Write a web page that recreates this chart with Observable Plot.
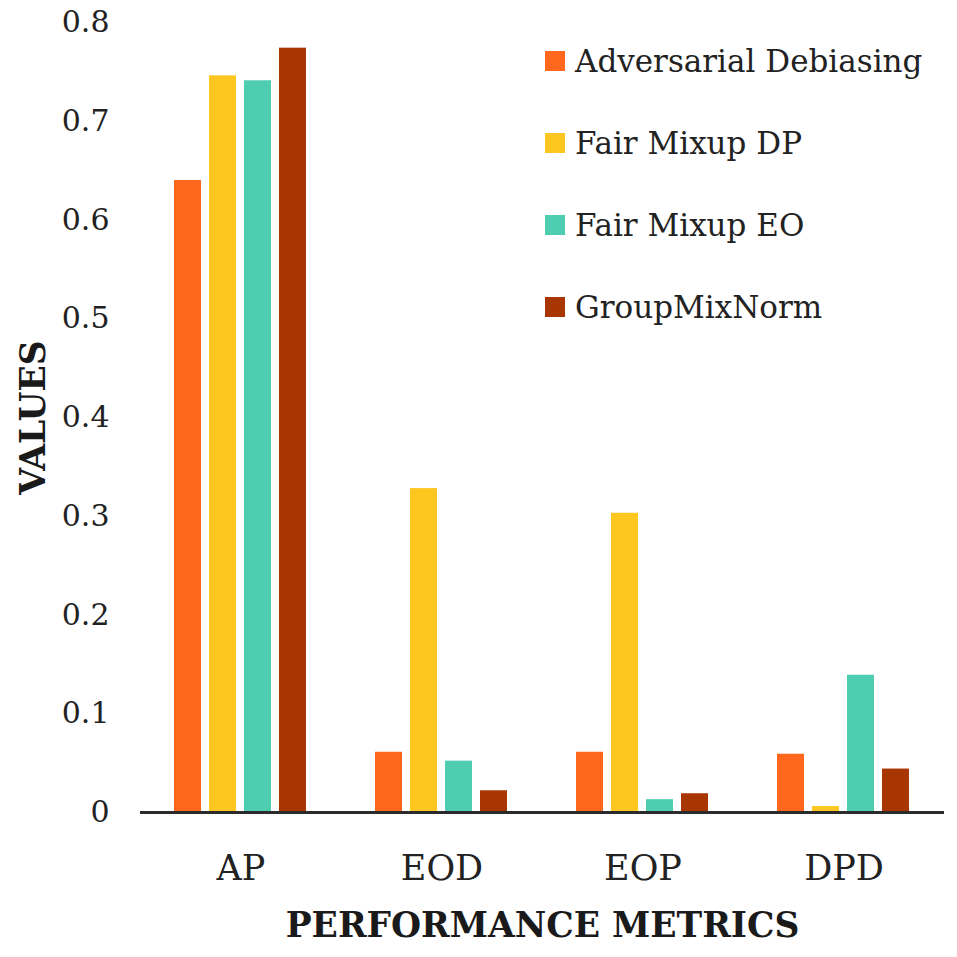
<!DOCTYPE html>
<html>
<head>
<meta charset="utf-8">
<script src="https://cdn.jsdelivr.net/npm/d3@7"></script>
<script src="https://cdn.jsdelivr.net/npm/@observablehq/plot@0.6"></script>
<style>
  html, body { margin: 0; padding: 0; background: #fff; }
  #wrap { position: relative; width: 957px; height: 957px; font-family: "DejaVu Serif", serif; }
  #legend { position: absolute; left: 545px; top: 42px; }
  .row { display: flex; align-items: center; height: 38px; margin-bottom: 44px; font-size: 31px; color: #222; }
  .sw { width: 20px; height: 20px; margin-right: 10px; flex: none; }
  svg g[aria-label="fx-axis label"] text, svg g[aria-label="y-axis label"] text { font-weight: bold; font-size: 34.5px; fill: #1a1a1a; }
</style>
</head>
<body>
<div id="wrap"></div>
<script>
const categories = ["AP", "EOD", "EOP", "DPD"];
const series = ["Adversarial Debiasing", "Fair Mixup DP", "Fair Mixup EO", "GroupMixNorm"];
const colors = ["#FF681C", "#FEC71F", "#4FCDB1", "#A83600"];
const adversarialDebiasing = [0.640, 0.061, 0.061, 0.059];
const fairMixupDP = [0.746, 0.328, 0.303, 0.006];
const fairMixupEO = [0.741, 0.052, 0.013, 0.139];
const groupMixNorm = [0.774, 0.022, 0.019, 0.044];
const yTicks = [0, 0.1, 0.2, 0.3, 0.4, 0.5, 0.6, 0.7, 0.8];

const valuesBySeries = [adversarialDebiasing, fairMixupDP, fairMixupEO, groupMixNorm];
const data = [];
categories.forEach((c, i) => series.forEach((s, j) => data.push({category: c, series: s, value: valuesBySeries[j][i]})));

const chart = Plot.plot({
  width: 957,
  height: 957,
  marginLeft: 138,
  marginRight: 12,
  marginTop: 22,
  marginBottom: 145,
  style: {fontFamily: "DejaVu Serif, serif", fontSize: "30px", color: "#222", background: "#fff"},
  fx: {domain: categories, padding: 0, axis: null},
  x: {domain: series, axis: null, paddingInner: 0.22, paddingOuter: 0.91},
  y: {domain: [0, 0.8], axis: null},
  color: {domain: series, range: colors},
  marks: [
    Plot.barY(data, {fx: "category", x: "series", y: "value", fill: "series"}),
    Plot.ruleY([0], {stroke: "#2b2b2b", strokeWidth: 3}),
    Plot.axisY({ticks: yTicks, tickSize: 0, tickPadding: 31, tickFormat: d => String(d),
      label: "VALUES", labelAnchor: "center", labelArrow: "none", labelOffset: 120, fontSize: 30}),
    Plot.axisFx({anchor: "bottom", tickSize: 0, tickPadding: 43, fontSize: 35,
      label: "PERFORMANCE METRICS", labelAnchor: "center", labelArrow: "none", labelOffset: 124})
  ]
});

const wrap = document.getElementById("wrap");
wrap.appendChild(chart);
const legend = document.createElement("div");
legend.id = "legend";
series.forEach((s, j) => {
  const row = document.createElement("div");
  row.className = "row";
  const sw = document.createElement("div");
  sw.className = "sw";
  sw.style.background = colors[j];
  const t = document.createElement("span");
  t.textContent = s;
  row.appendChild(sw);
  row.appendChild(t);
  legend.appendChild(row);
});
wrap.appendChild(legend);
</script>
</body>
</html>
